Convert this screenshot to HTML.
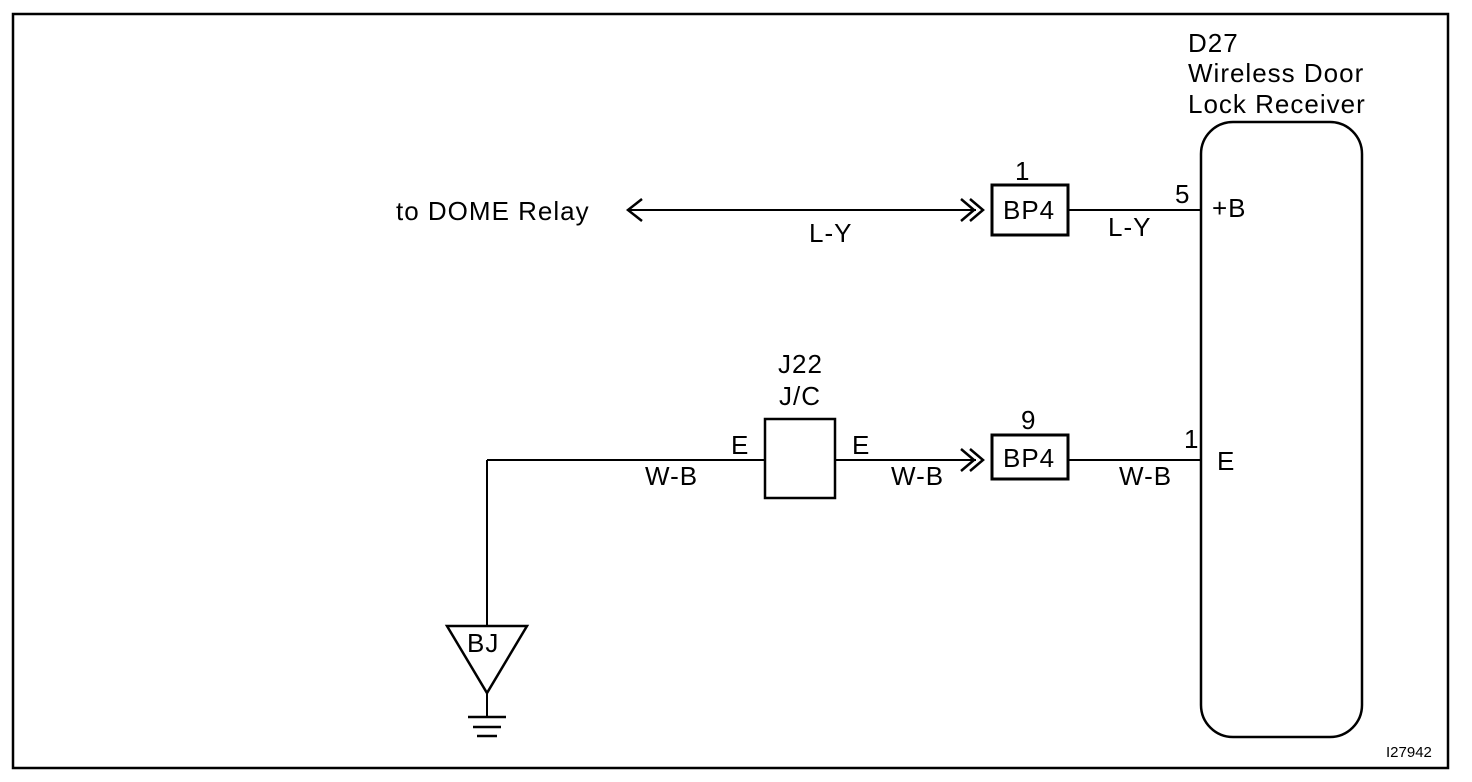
<!DOCTYPE html>
<html><head><style>body{margin:0;background:#fff}svg{display:block}text{font-family:"Liberation Sans",Arial,sans-serif;fill:#000}</style></head><body>
<svg width="1472" height="782" viewBox="0 0 1472 782" xmlns="http://www.w3.org/2000/svg">
<rect x="13" y="14" width="1435" height="754" fill="none" stroke="#000" stroke-width="2.5"/>
<g font-size="26" letter-spacing="1">
<text x="1188" y="52">D27</text>
<text x="1188" y="82">Wireless Door</text>
<text x="1188" y="113">Lock Receiver</text>
</g>
<rect x="1201" y="122" width="161" height="615" rx="32" fill="none" stroke="#000" stroke-width="2.5"/>
<g stroke="#000" stroke-width="2" fill="none">
<line x1="628" y1="210" x2="976" y2="210"/>
<polyline points="642,199 628,210 642,221" stroke-width="2.5"/>
<polyline points="961,199 974,210 961,221" stroke-width="2.5"/>
<polyline points="970,199 983,210 970,221" stroke-width="2.5"/>
<line x1="1068" y1="210" x2="1201" y2="210"/>
<line x1="487" y1="460" x2="765" y2="460"/>
<line x1="835" y1="460" x2="976" y2="460"/>
<polyline points="961,449 974,460 961,471" stroke-width="2.5"/>
<polyline points="970,449 983,460 970,471" stroke-width="2.5"/>
<line x1="1068" y1="460" x2="1201" y2="460"/>
<line x1="487" y1="460" x2="487" y2="626"/>
<polygon points="447,626 527,626 487,693" stroke-width="2.5"/>
<line x1="487" y1="693" x2="487" y2="717"/>
</g>
<g stroke="#000" stroke-width="2.5">
<line x1="468" y1="717" x2="506" y2="717"/>
<line x1="473" y1="727" x2="501" y2="727"/>
<line x1="477" y1="736" x2="497" y2="736"/>
</g>
<rect x="992" y="185" width="76" height="50" fill="#fff" stroke="#000" stroke-width="3"/>
<rect x="992" y="435" width="76" height="44" fill="#fff" stroke="#000" stroke-width="3"/>
<rect x="765" y="419" width="70" height="79" fill="none" stroke="#000" stroke-width="2.5"/>
<g font-size="26" letter-spacing="1">
<text x="396" y="220">to DOME Relay</text>
<text x="809" y="242">L-Y</text>
<text x="1108" y="236">L-Y</text>
<text x="1015" y="180">1</text>
<text x="1003" y="219">BP4</text>
<text x="1175" y="203">5</text>
<text x="1212" y="217">+B</text>
<text x="778" y="373">J22</text>
<text x="779" y="405">J/C</text>
<text x="731" y="454">E</text>
<text x="852" y="454">E</text>
<text x="645" y="485">W-B</text>
<text x="891" y="485">W-B</text>
<text x="1119" y="485">W-B</text>
<text x="1021" y="429">9</text>
<text x="1003" y="467">BP4</text>
<text x="1184" y="448">1</text>
<text x="1217" y="470">E</text>
<text x="467" y="652">BJ</text>
</g>
<text x="1386" y="757" font-size="15">I27942</text>
</svg>
</body></html>
